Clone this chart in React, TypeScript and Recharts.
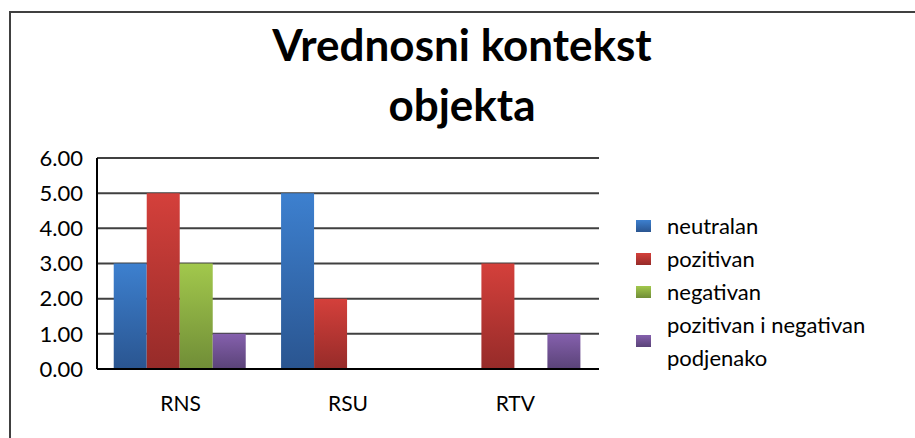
import { BarChart, Bar, XAxis, YAxis, CartesianGrid } from 'recharts';

const categories = ['RNS', 'RSU', 'RTV'];
const neutralan = [3, 5, 0];
const pozitivan = [5, 2, 3];
const negativan = [3, 0, 0];
const podjenako = [1, 0, 1];
const yTicks = [0, 1, 2, 3, 4, 5, 6];

const series = [
  { key: 'neutralan', name: 'neutralan', top: '#3d80cf', bottom: '#2a5590', values: neutralan },
  { key: 'pozitivan', name: 'pozitivan', top: '#d4403b', bottom: '#962b29', values: pozitivan },
  { key: 'negativan', name: 'negativan', top: '#a2c84c', bottom: '#708d37', values: negativan },
  { key: 'podjenako', name: 'pozitivan i negativan podjenako', top: '#8560ad', bottom: '#5a4378', values: podjenako },
];

const data = categories.map((c, i) => {
  const row: Record<string, string | number> = { name: c };
  series.forEach((s) => {
    row[s.key] = s.values[i];
  });
  return row;
});

const font = 'Lato, "Open Sans", sans-serif';

// legend drawn as plain html next to the plot
const LegendBox = () => (
  <div
    style={{
      position: 'absolute',
      left: 636,
      top: 209,
      width: 275,
      fontFamily: font,
      fontSize: 22,
      color: '#000',
      lineHeight: '33px',
    }}
  >
    {series.map((s) => (
      <div key={s.key} style={{ display: 'flex', alignItems: 'center' }}>
        <span
          style={{
            display: 'inline-block',
            width: 15,
            height: 12,
            marginRight: 16,
            background: `linear-gradient(${s.top}, ${s.bottom})`,
          }}
        />
        {s.key === 'podjenako' ? (
          <span style={{ lineHeight: '33px' }}>
            pozitivan i negativan
            <br />
            podjenako
          </span>
        ) : (
          <span>{s.name}</span>
        )}
      </div>
    ))}
  </div>
);

export default function App() {
  return (
    <div style={{ position: 'absolute', left: 0, top: 0, width: 915, height: 438, background: '#fff' }}>
      <div
        style={{
          position: 'absolute',
          left: 9,
          top: 11,
          width: 906,
          height: 427,
          borderTop: '2px solid #404040',
          borderLeft: '2px solid #404040',
        }}
      />
      <div
        style={{
          position: 'absolute',
          left: 212,
          width: 500,
          top: 14,
          textAlign: 'center',
          fontFamily: font,
          fontWeight: 700,
          fontSize: 44,
          lineHeight: '60px',
          color: '#000',
        }}
      >
        Vrednosni kontekst
        <br />
        objekta
      </div>
      <BarChart
        width={915}
        height={438}
        data={data}
        margin={{ top: 158, right: 316, bottom: 39, left: 0 }}
        barCategoryGap="10%"
        barGap={0}
        style={{ position: 'absolute', left: 0, top: 0 }}
      >
        <defs>
          {series.map((s) => (
            <linearGradient key={s.key} id={`grad-${s.key}`} x1="0" y1="0" x2="0" y2="1">
              <stop offset="0%" stopColor={s.top} />
              <stop offset="100%" stopColor={s.bottom} />
            </linearGradient>
          ))}
        </defs>
        <CartesianGrid horizontal vertical={false} stroke="#404040" strokeWidth={2} />
        <XAxis
          dataKey="name"
          height={30}
          axisLine={{ stroke: '#000', strokeWidth: 2 }}
          tickLine={false}
          tickMargin={21}
          tick={{ fill: '#000', fontSize: 21, fontFamily: font }}
        />
        <YAxis
          width={97}
          domain={[0, 6]}
          ticks={yTicks}
          interval={0}
          tickFormatter={(v: number) => v.toFixed(2)}
          axisLine={{ stroke: '#000', strokeWidth: 2 }}
          tickLine={false}
          tickMargin={8}
          tick={{ fill: '#000', fontSize: 22, fontFamily: font }}
        />
        {series.map((s) => (
          <Bar
            key={s.key}
            dataKey={s.key}
            name={s.name}
            fill={`url(#grad-${s.key})`}
            isAnimationActive={false}
          />
        ))}
      </BarChart>
      <LegendBox />
    </div>
  );
}
